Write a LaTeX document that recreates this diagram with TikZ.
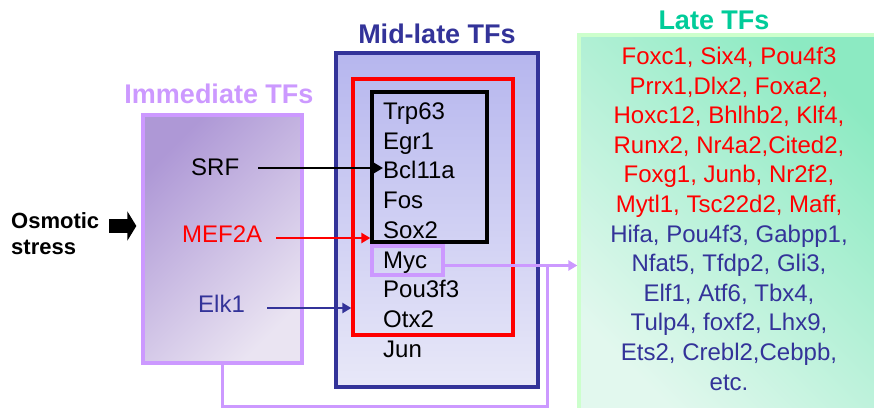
\documentclass[tikz,border=0pt]{standalone}
\usepackage{fontspec}
\setmainfont{Liberation Sans}
\usepackage{tikz}
\usetikzlibrary{arrows.meta, positioning, calc, fit}
\definecolor{cpurple}{HTML}{CC99FF}
\definecolor{cnavy}{HTML}{333399}
\definecolor{cred}{HTML}{FF0000}
\definecolor{cteal}{HTML}{00CC99}
\definecolor{cmint}{HTML}{CCFFCC}
\definecolor{purpletop}{HTML}{AE98D6}
\definecolor{purplebot}{HTML}{EAE4F2}
\definecolor{bluetop}{HTML}{B6B6EE}
\definecolor{bluebot}{HTML}{E8E8F8}
\definecolor{greentop}{HTML}{8CEAC2}
\definecolor{greenbot}{HTML}{E2F8EE}
\newcommand{\tfsize}{\fontsize{24}{29.6}\selectfont}

\begin{document}
\begin{tikzpicture}[x=1pt, y=1pt,
  box/.style={inner sep=0pt, line width=3.3pt},
  gene/.style={anchor=base west, inner sep=0pt, font=\tfsize},
  title/.style={anchor=base, inner sep=0pt, font=\bfseries\fontsize{27}{30}\selectfont},
  link/.style={line width=2.7pt, -{Triangle[length=9pt, width=10pt]}},
  bigarrow/.style={line width=14pt, -{Triangle[length=9pt, width=29pt]}}]
  \useasboundingbox (0,0) rectangle (874,-407);

  % boxes
  \node[box, draw=cpurple, top color=purpletop, bottom color=purplebot, shading angle=45,
        fit={(143,-115) (302,-363)}] (imm) {};
  \node[box, draw=cnavy, top color=bluetop, bottom color=bluebot,
        fit={(336,-53) (538,-387)}] (mid) {};
  \node[box, draw=cred, fit={(353,-79) (513,-335)}] (redbox) {};
  \node[box, draw=black, fit={(372,-92) (487,-242)}] (blackbox) {};
  \node[box, draw=cpurple, fit={(372,-246) (443,-275)}] (mycbox) {};
  \node[box, draw=cmint, top color=greentop, bottom color=greenbot, shading angle=-45,
        fit={(579,-35) (890,-420)}] (late) {};

  % titles
  \node[title, text=cpurple] (immtitle) at (219,-103) {Immediate TFs};
  \node[title, text=cnavy] (midtitle) at (437,-43) {Mid-late TFs};
  \node[title, text=cteal] (latetitle) at (714,-29) {Late TFs};

  % stimulus
  \node[anchor=west, inner sep=0pt, align=left, font=\bfseries\fontsize{22}{26}\selectfont]
       (osmo) at (11,-233.5) {Osmotic\\stress};
  \coordinate (stressout) at ($(osmo.east)+(10,7.5)$);
  \draw[bigarrow] (stressout) -- ([xshift=-5pt]stressout -| imm.west);

  % immediate TFs
  \node[gene] (srf) at (191,-175) {SRF};
  \node[gene, text=cred] (mef) at (182,-242) {MEF2A};
  \node[gene, text=cnavy] (elk) at (198,-312) {Elk1};

  % mid-late TFs
  \node[gene] (trp) at (383,-119) {Trp63};
  \node[gene] (egr) at (383,-149) {Egr1};
  \node[gene] (bcl) at (383,-178.5) {Bcl11a};
  \node[gene] (fos) at (383,-208) {Fos};
  \node[gene] (sox) at (383,-238) {Sox2};
  \node[gene] (myc) at (383,-268) {Myc};
  \node[gene] (pou) at (383,-297) {Pou3f3};
  \node[gene] (otx) at (383,-327) {Otx2};
  \node[gene] (jun) at (383,-357) {Jun};

  % late TFs
  \node[anchor=north, inner sep=0pt, align=center, font=\tfsize, text=cred] (latelist) at (729,-47)
    {Foxc1, Six4, Pou4f3\\
     Prrx1,Dlx2, Foxa2,\\
     Hoxc12, Bhlhb2, Klf4,\\
     Runx2, Nr4a2,Cited2,\\
     Foxg1, Junb, Nr2f2,\\
     Mytl1, Tsc22d2, Maff,\\
     \color{cnavy}Hifa, Pou4f3, Gabpp1,\\
     \color{cnavy}Nfat5, Tfdp2, Gli3,\\
     \color{cnavy}Elf1, Atf6, Tbx4,\\
     \color{cnavy}Tulp4, foxf2, Lhx9,\\
     \color{cnavy}Ets2, Crebl2,Cebpb,\\
     \color{cnavy}etc.};

  % connectors
  \coordinate (srfout) at ($(srf.base east)+(19,7)$);
  \coordinate (mefout) at ($(mef.base east)+(14,4)$);
  \coordinate (elkout) at ($(elk.base east)+(22,4)$);
  \draw[link, black] (srfout) -- (srfout -| bcl.west);
  \draw[link, cred] (mefout) -- (mefout -| blackbox.west);
  \draw[link, cnavy] (elkout) -- (elkout -| redbox.west);

  \coordinate (mycout) at ([yshift=-5pt]mycbox.east);
  \coordinate (merge) at ($(mycout -| mid.east)+(8,0)$);
  \draw[link, cpurple] (mycout) -- (mycout -| late.west);
  \draw[line width=2.7pt, cpurple] (imm.south) -- ++(0,-42) -| (merge);
\end{tikzpicture}
\end{document}
